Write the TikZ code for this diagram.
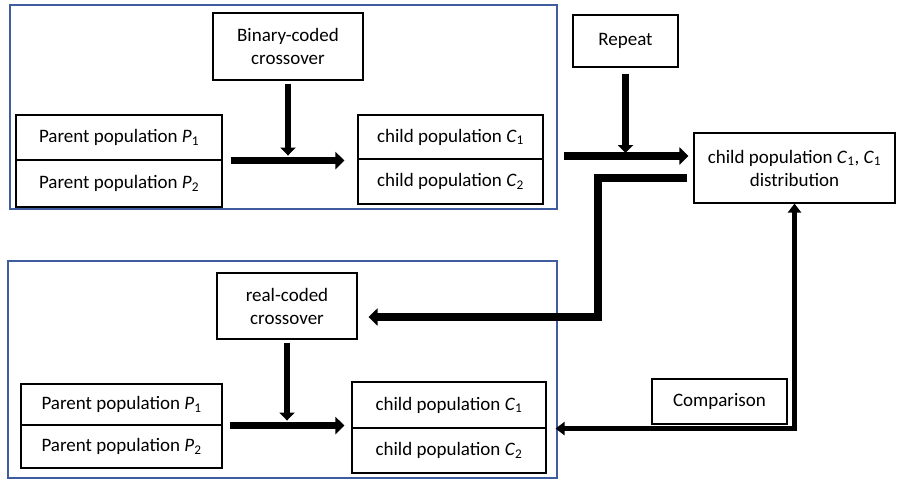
\documentclass[tikz,border=0pt]{standalone}
\usepackage{fontspec}
\setmainfont{Carlito}
\usetikzlibrary{arrows.meta,calc}
\definecolor{frameblue}{RGB}{62,92,158}
\newcommand\vsub[2]{\textit{#1}\textsubscript{#2}}
\begin{document}
\begin{tikzpicture}[x=1pt,y=-1pt,
  font=\fontsize{19}{23}\selectfont,
  box/.style={draw=black, line width=1.1pt, inner sep=0pt, align=center, fill=white},
  frame/.style={draw=frameblue, line width=2pt},
  bigarrow/.style={line width=7.5pt, line join=miter, -{Triangle[length=9pt,width=17pt]}},
  midarrow/.style={line width=6.5pt, -{Triangle[length=8pt,width=15pt]}},
  cmparrow/.style={line width=4.5pt, line join=miter, {Triangle[length=9pt,width=13pt]}-{Triangle[length=9pt,width=13pt]}}]
\useasboundingbox (0,0) rectangle (900,480);
\fill[white] (0,0) rectangle (900,480);
% frames
\draw[frame] (10,5) rectangle (557,209);
\draw[frame] (8,261) rectangle (557,478);
% top group
\node[box, minimum width=150pt, minimum height=67pt] (bc) at (288,46.5) {Binary-coded\\crossover};
\node[box, minimum width=206pt, minimum height=45pt] (p1) at (119,137.5) {Parent population \vsub{P}{1}};
\node[box, minimum width=206pt, minimum height=47pt] (p2) at (119,183.5) {Parent population \vsub{P}{2}};
\node[box, minimum width=185pt, minimum height=44pt] (c1) at (450.5,137) {child population \vsub{C}{1}};
\node[box, minimum width=185pt, minimum height=45pt] (c2) at (450.5,181.5) {child population \vsub{C}{2}};
% right side
\node[box, minimum width=105pt, minimum height=52pt] (rep) at (625.5,41) {Repeat};
\node[box, minimum width=201pt, minimum height=70pt] (dist) at (794.5,168) {child population \vsub{C}{1}, \vsub{C}{1}\\distribution};
\node[box, minimum width=135pt, minimum height=45pt] (cmp) at (719.5,401.5) {Comparison};
% lower group
\node[box, minimum width=140pt, minimum height=66pt] (rc) at (287,306) {real-coded\\crossover};
\node[box, minimum width=201pt, minimum height=41pt] (lp1) at (121.5,404.5) {Parent population \vsub{P}{1}};
\node[box, minimum width=201pt, minimum height=43pt] (lp2) at (121.5,446.5) {Parent population \vsub{P}{2}};
\node[box, minimum width=194pt, minimum height=46pt] (lc1) at (449,405) {child population \vsub{C}{1}};
\node[box, minimum width=194pt, minimum height=45pt] (lc2) at (449,450.5) {child population \vsub{C}{2}};
% coordinates
\coordinate (rs) at (564,156);
\coordinate (rt) at (598,317);
% top arrows
\draw[bigarrow, shorten <=8pt, shorten >=13pt] (p1.south east) -- (p1.south east -| c1.west);
\draw[midarrow, shorten <=3pt, shorten >=5pt] (bc.south) -- (bc.south |- p1.south);
% repeat arrows
\draw[bigarrow, shorten >=5pt] (rs) -- (rs -| dist.west);
\draw[midarrow, shorten <=6pt, shorten >=3pt] (rep.south) -- (rep.south |- rs);
% return path
\draw[bigarrow, shorten >=11pt] ($(dist.west)+(-6,10)$) -| (rt) -- (rt -| rc.east);
% lower arrows
\draw[bigarrow, shorten <=7pt, shorten >=7pt] (lp1.south east) -- (lp1.south east -| lc1.west);
\draw[midarrow, shorten <=3pt, shorten >=5pt] (rc.south) -- (rc.south |- lp1.south);
% comparison
\draw[cmparrow, shorten >=9pt] (dist.south) |- (lc1.south east);
\end{tikzpicture}
\end{document}
